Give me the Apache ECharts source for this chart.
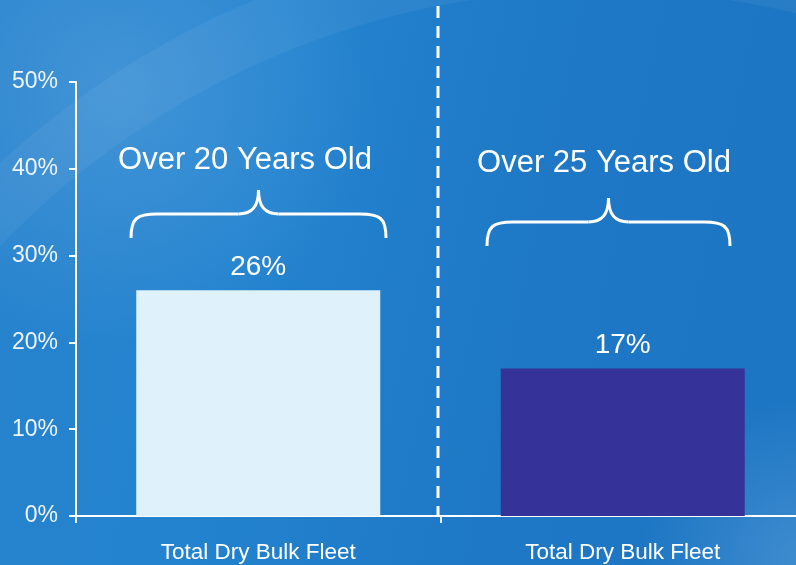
<!DOCTYPE html>
<html>
<head>
<meta charset="utf-8">
<script src="https://cdn.jsdelivr.net/npm/echarts@6/dist/echarts.min.js"></script>
<style>
html,body{margin:0;padding:0;background:#1f7bc6;overflow:hidden;width:796px;height:565px;}
#chart{width:805px;height:565px;}
</style>
</head>
<body>
<div id="chart"></div>
<script>
const categories = ['Total Dry Bulk Fleet', 'Total Dry Bulk Fleet'];
const values = [26, 17];
const valueLabels = ['26%', '17%'];
const barColors = ['#dff1fa', '#35339a'];
const groupTitles = ['Over 20 Years Old', 'Over 25 Years Old'];
const yTicks = [0, 10, 20, 30, 40, 50];

const chart = echarts.init(document.getElementById('chart'));
const FONT = '"Liberation Sans", Arial, sans-serif';

function brace(x1, x2, yEnd, yBar, yPeak) {
  const mid = (x1 + x2) / 2;
  const st = { fill: 'none', stroke: '#ffffff', lineWidth: 3 };
  const mk = (shape, type) => ({ type: type, z: 5, silent: true, shape: shape, style: st });
  return [
    mk({ x1: x1, y1: yEnd, cpx1: x1, cpy1: yBar + 4, cpx2: x1 + 6, cpy2: yBar, x2: x1 + 26, y2: yBar }, 'bezierCurve'),
    mk({ x1: x1 + 26, y1: yBar, x2: mid - 20, y2: yBar }, 'line'),
    mk({ x1: mid - 20, y1: yBar, cpx1: mid - 6, cpy1: yBar, cpx2: mid, cpy2: yBar - 8, x2: mid, y2: yPeak }, 'bezierCurve'),
    mk({ x1: mid, y1: yPeak, cpx1: mid, cpy1: yBar - 8, cpx2: mid + 6, cpy2: yBar, x2: mid + 20, y2: yBar }, 'bezierCurve'),
    mk({ x1: mid + 20, y1: yBar, x2: x2 - 26, y2: yBar }, 'line'),
    mk({ x1: x2 - 26, y1: yBar, cpx1: x2 - 6, cpy1: yBar, cpx2: x2, cpy2: yBar + 4, x2: x2, y2: yEnd }, 'bezierCurve')
  ];
}

const option = {
  backgroundColor: 'transparent',
  animation: false,
  grid: { left: 76, right: 0, top: 82, bottom: 49, containLabel: false },
  xAxis: {
    type: 'category',
    data: categories,
    axisLine: { show: true, lineStyle: { color: '#ffffff', width: 2 } },
    axisTick: { show: true, length: 7, lineStyle: { color: '#e8f0f8', width: 2 } },
    axisLabel: { color: '#ffffff', fontFamily: FONT, fontSize: 22.5, margin: 25 }
  },
  yAxis: {
    type: 'value',
    min: 0, max: 50, interval: 10,
    axisLine: { show: true, lineStyle: { color: '#ffffff', width: 2 } },
    axisTick: { show: true, length: 7, lineStyle: { color: '#ffffff', width: 2 } },
    splitLine: { show: false },
    axisLabel: { color: '#eef4fb', fontFamily: FONT, fontSize: 23, margin: 18,
      formatter: v => yTicks.includes(v) ? v + '%' : '' }
  },
  series: [{
    type: 'bar',
    barWidth: 244,
    data: values.map((v, i) => ({ value: v, itemStyle: { color: barColors[i] } })),
    label: {
      show: true, position: 'top', distance: 9,
      color: '#ffffff', fontFamily: FONT, fontSize: 28,
      formatter: p => valueLabels[p.dataIndex]
    }
  }],
  graphic: [
    { type: 'rect', z: -10, silent: true, shape: { x: 0, y: 0, width: 805, height: 565 },
      style: { fill: new echarts.graphic.LinearGradient(0, 0, 1, 0.3, [
        { offset: 0, color: '#2883cd' }, { offset: 0.35, color: '#2383cf' },
        { offset: 0.7, color: '#1e78c5' }, { offset: 1, color: '#1d76c3' }]) } },
    { type: 'circle', z: -9, silent: true, shape: { cx: 120, cy: 90, r: 260 },
      style: { fill: new echarts.graphic.RadialGradient(0.5, 0.5, 0.5, [
        { offset: 0, color: 'rgba(120,180,230,0.35)' }, { offset: 1, color: 'rgba(120,180,230,0)' }]) } },
    { type: 'circle', z: -9, silent: true, shape: { cx: 600, cy: 820, r: 860 },
      style: { fill: 'none', stroke: 'rgba(255,255,255,0.05)', lineWidth: 60 } },
    { type: 'circle', z: -9, silent: true, shape: { cx: 800, cy: 560, r: 160 },
      style: { fill: new echarts.graphic.RadialGradient(0.5, 0.5, 0.5, [
        { offset: 0, color: 'rgba(140,190,235,0.3)' }, { offset: 1, color: 'rgba(140,190,235,0)' }]) } },
    { type: 'line', z: 5, silent: true, shape: { x1: 438, y1: 6, x2: 438, y2: 516 },
      style: { stroke: '#ffffff', lineWidth: 3, lineDash: [12, 8] } },
    ...brace(131, 386, 238, 214, 190),
    ...brace(487, 730, 246, 222, 198),
    { type: 'text', z: 5, silent: true, x: 245, y: 160,
      style: { text: groupTitles[0], fill: '#ffffff', font: '31px ' + FONT, textAlign: 'center', textVerticalAlign: 'middle' } },
    { type: 'text', z: 5, silent: true, x: 604, y: 163,
      style: { text: groupTitles[1], fill: '#ffffff', font: '31px ' + FONT, textAlign: 'center', textVerticalAlign: 'middle' } }
  ]
};
chart.setOption(option);
</script>
</body>
</html>
